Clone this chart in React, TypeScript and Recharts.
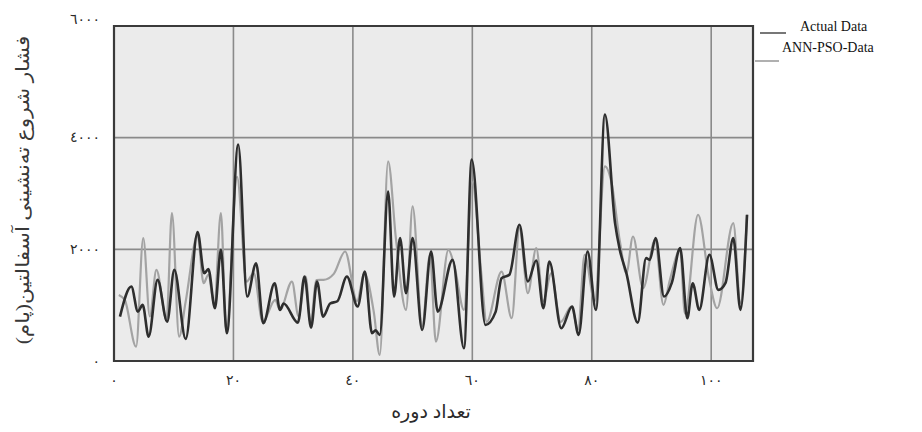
import React from 'react';
import { LineChart, Line, XAxis, YAxis, CartesianGrid, ReferenceArea } from 'recharts';

// Actual Data series (x = period, y = pressure)
const actualX = [1.0,2.9,4.0,4.8,5.8,7.3,8.9,10.1,12.0,14.0,15.1,15.8,16.9,17.9,18.9,20.8,22.3,23.8,25.0,26.9,27.8,28.4,30.8,31.9,33.0,34.0,35.0,36.2,37.4,39.0,40.8,42.0,43.2,43.8,44.5,45.9,46.9,47.9,48.9,50.0,51.6,53.1,54.2,56.7,58.6,59.9,62.2,63.9,64.9,66.2,67.9,69.3,70.7,71.9,72.9,74.9,76.7,77.8,79.3,80.7,82.2,83.9,84.7,85.8,87.7,89.1,89.7,90.7,92.1,93.4,94.8,96.0,96.9,98.0,99.7,101.2,102.4,103.7,104.9,106.0];
const actualY = [795,1333,885,1005,436,1453,705,1632,395,2309,1573,1645,945,1991,497,3875,1154,1752,676,1393,915,1030,687,1513,598,1423,795,1030,1070,1513,975,1602,497,550,466,3037,1154,2201,1214,2201,556,1961,885,1812,228,3606,646,880,1483,1543,2440,1423,1800,945,1782,586,975,466,1961,915,4413,2470,1990,1573,687,1842,1810,2201,1154,1400,2021,766,1393,915,1902,1274,1400,2201,915,2619];

// ANN-PSO-Data series
const annX = [0.8,1.8,3.7,4.9,6.0,7.1,8.8,9.7,10.9,12.0,14.0,15.0,15.8,16.8,17.9,18.8,20.6,22.2,23.4,24.9,27.0,27.8,29.8,30.9,32.1,32.9,33.9,35.1,36.8,38.7,40.7,41.9,43.5,44.5,45.9,47.2,48.9,50.0,51.6,52.9,53.9,56.0,57.0,58.6,60.0,61.5,62.4,64.9,66.6,67.9,69.3,70.7,71.9,73.2,74.8,76.6,77.7,78.8,80.5,82.2,83.3,84.7,85.8,86.9,88.6,90.6,92.0,93.1,94.8,95.6,97.8,99.6,101.0,103.7,104.9,106.0];
const annY = [1184,1094,257,2201,800,1632,735,2650,436,1064,2250,1394,1543,1000,2650,500,3300,1423,1573,700,1094,915,1423,800,1513,670,1450,1453,1560,1961,1070,1570,880,108,3576,2200,915,2768,620,1900,346,1991,1700,915,3200,1573,700,1602,766,2380,1214,2021,1070,1573,700,975,565,1900,1070,3486,3200,2150,1573,2230,1304,2170,1005,1460,1990,850,2619,1500,945,2470,1040,2619];

const xTicks = [0, 20, 40, 60, 80, 100];
const xTickLabels = ['٠', '٢٠', '٤٠', '٦٠', '٨٠', '١٠٠'];
const yTicks = [0, 2000, 4000, 6000];
const yTickLabels = ['٠', '٢٠٠٠', '٤٠٠٠', '٦٠٠٠'];

const seriesNames = ['Actual Data', 'ANN-PSO-Data'];
const xTitle = 'تعداد دوره';
const yTitle = 'فشار شروع ته‌نشینی آسفالتین(پام)';

const actualData = actualX.map((x, i) => ({ x, y: actualY[i] }));
const annData = annX.map((x, i) => ({ x, y: annY[i] }));

const FONT = '"Liberation Serif", "DejaVu Serif", "DejaVu Sans", serif';
const DARK = '#2e2e2e';
const GREY = '#a3a3a3';
const TEXT = '#2a2a2a';

const YTick = (props: any) => {
  const { x, y, payload } = props;
  const v = payload.value;
  const dy = v === 6000 ? -7 : 0;
  return (
    <text x={x + 2} y={y + dy} textAnchor="end" dominantBaseline="central" fill={TEXT} fontSize={14} fontFamily={FONT}>
      {yTickLabels[yTicks.indexOf(v)] ?? ''}
    </text>
  );
};

export default function App() {
  return (
    <div style={{ position: 'absolute', left: 0, top: 0, width: 922, height: 432, background: '#fff', fontFamily: FONT }}>
      <LineChart
        width={922}
        height={432}
        margin={{ top: 26, right: 169, bottom: 41, left: 54 }}
      >
        <CartesianGrid fill="#ebebeb" stroke="#8a8a8a" strokeWidth={1.6} />
        <XAxis
          dataKey="x"
          type="number"
          domain={[0, 107]}
          ticks={xTicks}
          allowDataOverflow
          tickFormatter={(v) => xTickLabels[xTicks.indexOf(v)] ?? ''}
          tick={{ fill: TEXT, fontSize: 14, fontFamily: FONT }}
          tickLine={false}
          axisLine={false}
          height={30}
          tickMargin={8}
          label={{
            content: () => (
              <text x={431} y={418} textAnchor="middle" fill={TEXT} fontSize={19} fontFamily={FONT}>
                {xTitle}
              </text>
            ),
          }}
        />
        <YAxis
          type="number"
          domain={[0, 6000]}
          ticks={yTicks}
          allowDataOverflow
          tick={<YTick />}
          tickLine={false}
          axisLine={false}
          width={60}
          tickMargin={10}
          label={{
            content: () => (
              <text
                x={0}
                y={0}
                textAnchor="middle"
                dominantBaseline="central"
                transform="translate(22 190) rotate(-90) scale(1.14 1)"
                fill="#383838"
                fontSize={19}
                fontFamily={FONT}
              >
                {yTitle}
              </text>
            ),
          }}
        />
        <Line
          data={annData}
          dataKey="y"
          type="monotone"
          stroke={GREY}
          strokeWidth={2.2}
          dot={false}
          isAnimationActive={false}
          name={seriesNames[1]}
        />
        <Line
          data={actualData}
          dataKey="y"
          type="monotone"
          stroke={DARK}
          strokeWidth={2.6}
          dot={false}
          isAnimationActive={false}
          name={seriesNames[0]}
        />
        <ReferenceArea x1={0} x2={107} y1={0} y2={6000} fill="none" stroke="#3a3a3a" strokeWidth={2.2} ifOverflow="visible" />
      </LineChart>
      <div style={{ position: 'absolute', left: 752, top: 14, width: 170, fontFamily: FONT, fontSize: 14, color: '#111' }}>
        <div style={{ position: 'absolute', left: 8, top: 18, width: 26, height: 2, background: '#777' }} />
        <div style={{ position: 'absolute', left: 48, top: 4, whiteSpace: 'nowrap', lineHeight: '18px' }}>{seriesNames[0]}</div>
        <div style={{ position: 'absolute', left: 3, top: 46, width: 24, height: 2, background: '#b0b0b0' }} />
        <div style={{ position: 'absolute', left: 30, top: 25, whiteSpace: 'nowrap', lineHeight: '18px' }}>{seriesNames[1]}</div>
      </div>
    </div>
  );
}
